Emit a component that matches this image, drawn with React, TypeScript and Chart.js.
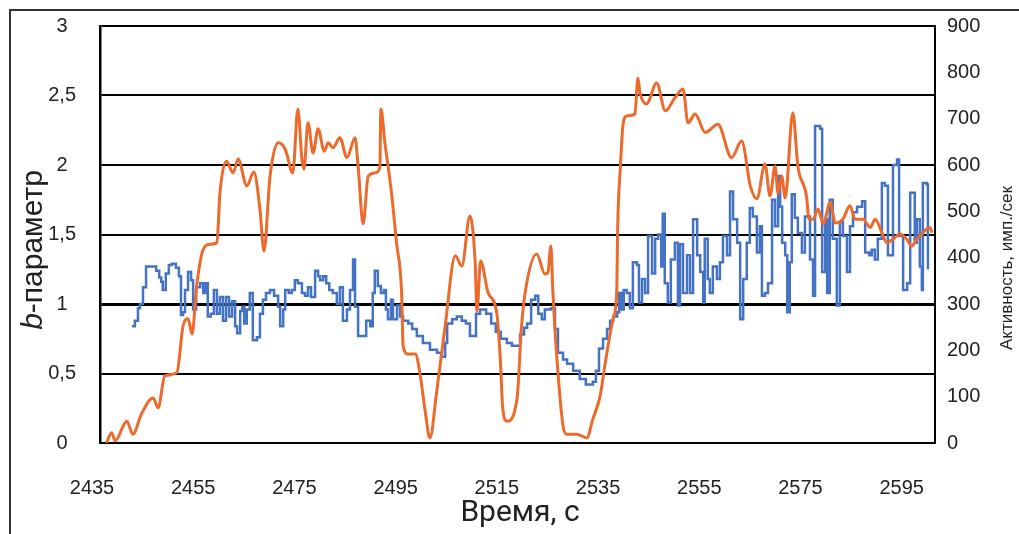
import React, { useEffect, useRef } from 'react';
import { Chart, registerables } from 'chart.js';

Chart.register(...registerables);

// X-axis tick labels (time, s)
const timeTicks = [2435, 2455, 2475, 2495, 2515, 2535, 2555, 2575, 2595];

// Activity (imp./s), right axis — orange smooth curve
const activityTime = [
  2436.3, 2437.3, 2438.0, 2440.3, 2441.5, 2443.2, 2445.5, 2446.5, 2447.8, 2450.2,
  2451.4, 2452.4, 2453.2, 2454.1, 2455.4, 2456.7, 2458.1, 2458.7, 2460.0, 2461.3,
  2462.3, 2464.0, 2465.4, 2466.6, 2467.4, 2468.6, 2470.2, 2471.6, 2473.1, 2474.1,
  2474.9, 2475.3, 2476.1, 2477.1, 2478.1, 2479.3, 2480.1, 2481.0, 2482.4, 2483.8,
  2485.4, 2486.0, 2487.0, 2488.0, 2489.3, 2490.3, 2490.5, 2491.3, 2492.6, 2493.6,
  2494.6, 2494.9, 2495.9, 2497.3, 2498.2, 2499.2, 2500.2, 2501.5, 2503.2, 2505.2,
  2506.5, 2508.1, 2509.1, 2509.5, 2510.2, 2511.7, 2513.4, 2514.1, 2514.6, 2515.4,
  2517.4, 2518.3, 2519.0, 2521.3, 2522.9, 2523.5, 2524.1, 2524.5, 2525.3, 2526.5,
  2527.2, 2529.2, 2531.2, 2532.4, 2533.8, 2534.8, 2536.4, 2537.1, 2537.3, 2537.8,
  2538.4, 2539.1, 2540.7, 2541.3, 2541.7, 2543.0, 2545.0, 2546.7, 2548.6, 2550.2,
  2551.2, 2552.6, 2554.6, 2557.1, 2559.8, 2561.8, 2563.5, 2564.8, 2566.4, 2567.4,
  2568.4, 2569.0, 2569.7, 2570.4, 2571.9, 2572.9, 2574.6, 2575.1, 2575.9, 2576.9,
  2577.9, 2579.3, 2580.3, 2581.8, 2583.2, 2584.2, 2585.8, 2587.2, 2588.2, 2589.5,
  2590.5, 2591.7, 2593.1, 2594.4, 2595.4, 2596.4, 2597.6, 2599.0, 2599.4,
];
const activityValues = [
  0, 22, 5, 47, 19, 63, 97, 76, 145, 152,
  252, 268, 235, 339, 418, 429, 432, 540, 608, 583,
  613, 555, 585, 505, 414, 576, 648, 634, 583, 721,
  613, 591, 691, 626, 678, 630, 648, 637, 659, 616,
  659, 598, 473, 576, 583, 594, 721, 648, 540, 432,
  324, 209, 192, 192, 152, 73, 11, 108, 252, 404,
  382, 490, 397, 285, 393, 324, 281, 181, 73, 47,
  95, 252, 324, 408, 365, 368, 425, 324, 181, 37,
  19, 19, 11, 52, 100, 170, 268, 324, 468, 591,
  691, 706, 710, 788, 756, 732, 777, 717, 745, 764,
  691, 710, 670, 688, 616, 652, 555, 527, 602, 533,
  598, 538, 576, 529, 713, 598, 533, 483, 483, 505,
  473, 519, 475, 483, 512, 483, 483, 465, 483, 454,
  432, 440, 451, 440, 425, 440, 454, 465, 454,
];

// b-parameter, left axis — blue step line
const bTime = [
  2441.3, 2441.9, 2442.5, 2442.9, 2443.5, 2444.1, 2445.5, 2446.1, 2446.7, 2447.1,
  2447.4, 2448.0, 2448.6, 2449.2, 2450.0, 2450.6, 2451.0, 2451.4, 2451.8, 2452.4,
  2453.0, 2453.4, 2454.0, 2454.8, 2455.4, 2455.9, 2456.3, 2456.9, 2457.5, 2458.1,
  2458.7, 2459.3, 2459.9, 2460.5, 2461.1, 2461.7, 2462.1, 2462.7, 2463.1, 2463.5,
  2464.0, 2464.6, 2465.2, 2466.0, 2466.6, 2467.2, 2467.8, 2468.6, 2469.4, 2470.2,
  2470.6, 2471.2, 2471.6, 2472.3, 2472.9, 2473.5, 2474.1, 2474.9, 2475.5, 2476.1,
  2476.7, 2477.5, 2478.1, 2478.5, 2479.1, 2479.7, 2480.3, 2481.0, 2481.8, 2482.4,
  2483.0, 2483.8, 2484.4, 2485.0, 2485.4, 2486.0, 2487.0, 2487.6, 2488.4, 2488.9,
  2489.3, 2489.9, 2490.5, 2491.1, 2491.5, 2491.9, 2492.5, 2492.9, 2493.7, 2494.3,
  2494.9, 2495.9, 2496.7, 2497.6, 2498.8, 2500.2, 2501.6, 2502.4, 2503.2, 2503.6,
  2504.6, 2505.5, 2506.5, 2507.3, 2508.1, 2509.3, 2510.1, 2511.3, 2512.3, 2513.2,
  2514.2, 2515.4, 2516.4, 2517.6, 2518.0, 2518.8, 2519.4, 2520.2, 2521.0, 2521.6,
  2522.3, 2522.9, 2524.1, 2524.9, 2525.5, 2526.5, 2527.3, 2528.5, 2529.8, 2531.0,
  2532.4, 2533.0, 2533.6, 2534.4, 2535.2, 2535.8, 2536.4, 2537.2, 2537.6, 2538.1,
  2538.5, 2539.1, 2539.7, 2540.3, 2541.1, 2541.5, 2542.1, 2542.7, 2543.3, 2544.1,
  2544.7, 2545.3, 2545.9, 2546.2, 2546.6, 2547.2, 2547.8, 2548.6, 2549.2, 2549.6,
  2550.2, 2551.0, 2551.6, 2552.2, 2553.0, 2553.6, 2554.2, 2554.5, 2555.1, 2555.5,
  2556.1, 2556.9, 2557.5, 2558.1, 2558.9, 2559.5, 2560.1, 2560.9, 2561.5, 2562.1,
  2562.8, 2563.4, 2564.0, 2564.8, 2565.4, 2565.8, 2566.4, 2567.0, 2567.8, 2568.4,
  2569.0, 2569.4, 2569.8, 2570.4, 2570.8, 2571.3, 2571.7, 2572.3, 2572.9, 2573.7,
  2574.3, 2575.3, 2575.9, 2576.3, 2577.3, 2577.7, 2578.3, 2578.7, 2579.2, 2579.8,
  2580.6, 2581.2, 2581.8, 2582.6, 2583.2, 2583.8, 2584.6, 2585.6, 2586.2, 2587.0,
  2587.5, 2588.1, 2588.7, 2589.5, 2590.1, 2590.7, 2591.7, 2592.5, 2592.9, 2593.7,
  2594.5, 2595.1, 2596.0, 2596.4, 2597.0, 2597.4, 2597.6, 2598.4, 2598.6,
];
const bValues = [
  0.84, 0.88, 0.97, 1.0, 1.12, 1.27, 1.27, 1.24, 1.19, 1.16,
  1.1, 1.22, 1.28, 1.29, 1.26, 1.2, 0.92, 0.94, 1.1, 1.23,
  1.17, 0.96, 1.12, 1.15, 1.08, 1.15, 0.91, 0.93, 1.1, 0.93,
  1.05, 0.88, 1.05, 0.91, 1.02, 0.84, 0.79, 0.95, 0.98, 0.86,
  0.96, 1.08, 0.74, 0.76, 0.93, 1.03, 1.08, 1.1, 1.06, 0.98,
  0.84, 0.96, 1.1, 1.08, 1.1, 1.17, 1.15, 1.08, 1.06, 1.12,
  1.05, 1.24, 1.2, 1.17, 1.2, 1.15, 1.1, 1.08, 1.0, 1.12,
  0.88, 0.96, 1.1, 1.32, 0.98, 0.77, 0.77, 0.88, 0.84, 1.08,
  1.24, 1.13, 1.08, 1.1, 0.96, 0.89, 1.03, 0.89, 0.99, 0.91,
  0.88, 0.86, 0.82, 0.77, 0.72, 0.67, 0.65, 0.62, 0.72, 0.86,
  0.89, 0.91, 0.88, 0.86, 0.77, 0.93, 0.96, 0.93, 0.86, 0.8,
  0.75, 0.72, 0.7, 0.7, 0.78, 0.83, 0.86, 1.03, 1.06, 0.93,
  0.89, 0.96, 0.97, 0.82, 0.65, 0.6, 0.57, 0.52, 0.46, 0.42,
  0.44, 0.52, 0.68, 0.75, 0.82, 0.88, 0.91, 0.94, 1.08, 0.96,
  1.1, 1.08, 0.97, 1.3, 1.28, 1.01, 1.18, 1.08, 1.49, 1.22,
  1.47, 1.5, 1.27, 1.65, 1.15, 1.01, 1.32, 1.44, 0.99, 1.43,
  1.08, 1.35, 1.08, 1.61, 1.35, 1.23, 1.01, 1.47, 1.18, 1.08,
  1.27, 1.18, 1.3, 1.49, 1.35, 1.81, 1.61, 1.44, 0.89, 1.18,
  1.44, 1.69, 1.63, 1.37, 1.56, 1.06, 1.08, 1.15, 1.75, 1.56,
  1.92, 1.7, 1.44, 1.35, 0.94, 1.3, 1.79, 1.62, 1.51, 1.37,
  1.63, 1.32, 1.06, 2.28, 2.26, 1.23, 1.61, 1.08, 1.75, 1.47,
  0.99, 1.59, 1.49, 1.23, 1.56, 1.66, 1.7, 1.74, 1.37, 1.35,
  1.39, 1.32, 1.47, 1.87, 1.85, 1.35, 2.0, 2.04, 1.49, 1.1,
  1.15, 1.8, 1.44, 1.61, 1.27, 1.1, 1.87, 1.86, 1.25,
];

const TICK_FONT = { family: "'Liberation Sans', Arial, sans-serif", size: 20 };

const decorPlugin = {
  id: 'decor',
  beforeDraw(chart: any) {
    const ctx = chart.ctx;
    ctx.save();
    ctx.fillStyle = '#ffffff';
    ctx.fillRect(0, 0, chart.width, chart.height);
    ctx.strokeStyle = '#333333';
    ctx.lineWidth = 2;
    ctx.beginPath();
    ctx.moveTo(10, chart.height);
    ctx.lineTo(10, 10);
    ctx.lineTo(chart.width, 10);
    ctx.stroke();
    ctx.restore();
  },
  afterDraw(chart: any) {
    const ctx = chart.ctx;
    ctx.save();
    ctx.fillStyle = '#222222';
    // left axis title with italic "b"
    ctx.translate(42, 250);
    ctx.rotate(-Math.PI / 2);
    ctx.textBaseline = 'alphabetic';
    const f1 = "italic 30px 'Liberation Sans', Arial, sans-serif";
    const f2 = "30px 'Liberation Sans', Arial, sans-serif";
    ctx.font = f1;
    const w1 = ctx.measureText('b').width;
    ctx.font = f2;
    const w2 = ctx.measureText('-параметр').width;
    const start = -(w1 + w2) / 2;
    ctx.font = f1;
    ctx.textAlign = 'left';
    ctx.fillText('b', start, 0);
    ctx.font = f2;
    ctx.fillText('-параметр', start + w1, 0);
    ctx.restore();

    // right axis title
    ctx.save();
    ctx.fillStyle = '#222222';
    ctx.translate(1012, 268);
    ctx.rotate(-Math.PI / 2);
    ctx.textAlign = 'center';
    ctx.textBaseline = 'alphabetic';
    ctx.font = "17px 'Liberation Sans', Arial, sans-serif";
    ctx.fillText('Активность, имп./сек', 0, 0);
    ctx.restore();

    // x axis title
    ctx.save();
    ctx.fillStyle = '#222222';
    ctx.textAlign = 'center';
    ctx.textBaseline = 'alphabetic';
    ctx.font = "30px Roboto, 'Liberation Sans', sans-serif";
    ctx.fillText('Время, с', 520, 521);
    ctx.restore();
  },
};

export default function App() {
  const ref = useRef<HTMLCanvasElement>(null);

  useEffect(() => {
    if (!ref.current) return;
    const chart = new Chart(ref.current, {
      type: 'line',
      data: {
        datasets: [
          {
            label: 'Активность, имп./сек',
            data: activityTime.map((t, i) => ({ x: t, y: activityValues[i] })),
            yAxisID: 'yR',
            borderColor: '#EC6A2C',
            borderWidth: 3,
            pointRadius: 0,
            fill: false,
            cubicInterpolationMode: 'monotone',
            order: 0,
          },
          {
            label: 'b-параметр',
            data: bTime.map((t, i) => ({ x: t, y: bValues[i] })),
            yAxisID: 'y',
            borderColor: '#4472C4',
            borderWidth: 2.5,
            pointRadius: 0,
            fill: false,
            stepped: true,
            order: 1,
          },
        ],
      },
      options: {
        responsive: false,
        animation: false,
        devicePixelRatio: 1,
        layout: { padding: { top: 26, left: 0, right: 0, bottom: 0 } },
        plugins: {
          legend: { display: false },
          tooltip: { enabled: false },
        },
        scales: {
          x: {
            type: 'linear',
            min: 2435,
            max: 2600,
            afterBuildTicks: (s: any) => {
              s.ticks = timeTicks.map((v) => ({ value: v }));
            },
            afterFit: (s: any) => {
              s.height = 91;
              s.paddingLeft = 0;
              s.paddingRight = 0;
            },
            grid: { display: false, drawTicks: false },
            border: { display: true, color: '#000000', width: 2 },
            ticks: {
              font: TICK_FONT,
              color: '#222222',
              padding: 33,
              labelOffset: -8,
              maxRotation: 0,
              autoSkip: false,
              callback: (v: any) => String(v),
            },
          },
          y: {
            position: 'left',
            min: 0,
            max: 3,
            afterFit: (s: any) => {
              s.width = 100;
              s.paddingTop = 0;
              s.paddingBottom = 0;
            },
            ticks: {
              stepSize: 0.5,
              font: TICK_FONT,
              color: '#222222',
              crossAlign: 'center',
              padding: 24,
              callback: (v: any) => String(v).replace('.', ','),
            },
            grid: {
              color: '#000000',
              lineWidth: (c: any) => (c.tick && c.tick.value === 1 ? 3 : 2),
              drawTicks: false,
            },
            border: { display: true, color: '#000000', width: 2.5 },
          },
          yR: {
            position: 'right',
            min: 0,
            max: 900,
            afterFit: (s: any) => {
              s.width = 84;
              s.paddingTop = 0;
              s.paddingBottom = 0;
            },
            ticks: {
              stepSize: 100,
              font: TICK_FONT,
              color: '#222222',
              padding: 12,
            },
            grid: { drawOnChartArea: false, drawTicks: false },
            border: { display: true, color: '#000000', width: 2 },
          },
        },
      },
      plugins: [decorPlugin],
    } as any);
    return () => chart.destroy();
  }, []);

  return (
    <div style={{ position: 'absolute', left: 0, top: 0, width: 1019, height: 534 }}>
      <canvas ref={ref} width={1019} height={534} style={{ display: 'block' }} />
    </div>
  );
}
